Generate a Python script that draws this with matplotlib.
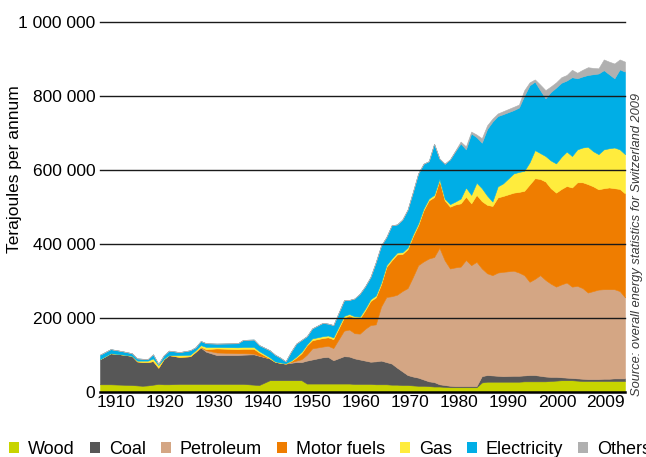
import numpy as np
import matplotlib
matplotlib.use("Agg")
import matplotlib.pyplot as plt
from matplotlib.patches import Patch

plt.rcParams["font.family"] = ["Liberation Sans", "DejaVu Sans"]

# values, in thousands of TJ
years = [1910, 1912, 1914, 1916, 1917, 1918, 1919, 1920, 1921, 1922,
         1923, 1925, 1927, 1928, 1929, 1930, 1932, 1936, 1937, 1939,
         1940, 1942, 1943, 1944, 1945, 1946, 1947, 1948, 1949, 1950,
         1952, 1953, 1954, 1956, 1957, 1958, 1959, 1960, 1961, 1962,
         1963, 1964, 1965, 1966, 1967, 1968, 1969, 1970, 1971, 1972,
         1973, 1974, 1975, 1976, 1977, 1978, 1979, 1980, 1981, 1982,
         1983, 1984, 1985, 1986, 1988, 1989, 1990, 1991, 1992, 1993,
         1994, 1995, 1996, 1997, 1998, 1999, 2000, 2001, 2002, 2003,
         2004, 2005, 2006, 2007, 2008, 2009]

wood = [20, 20, 19, 18, 17, 16, 17, 19, 21, 20,
        20, 21, 21, 21, 21, 21, 21, 21, 21, 19,
        18, 31, 31, 31, 31, 31, 31, 31, 22, 22,
        22, 22, 22, 22, 22, 21, 21, 21, 21, 20,
        20, 20, 19, 19, 18, 18, 17, 16, 16, 15,
        14, 14, 13, 12, 12, 12, 12, 12, 12, 25,
        27, 27, 27, 27, 27, 27, 28, 28, 28, 28,
        28, 29, 30, 31, 31, 31, 30, 29, 29, 29,
        29, 29, 29, 29, 29, 29]

coal = [68, 84, 82, 79, 65, 64, 63, 64, 44, 68,
        79, 73, 75, 87, 98, 87, 78, 78, 79, 82,
        79, 59, 50, 47, 45, 47, 49, 49, 62, 65,
        71, 72, 63, 74, 73, 69, 66, 63, 60, 62,
        64, 60, 57, 46, 37, 27, 24, 22, 17, 13,
        12, 6, 5, 4, 3, 3, 3, 3, 3, 17,
        18, 17, 16, 15, 16, 16, 16, 17, 17, 15,
        13, 11, 10, 8, 7, 6, 6, 6, 5, 5,
        5, 6, 6, 7, 7, 7]

petroleum = [0, 0, 0, 0, 0, 0, 0, 0, 0, 0,
             0, 0, 0, 0, 1, 4, 7, 5, 4, 2,
             1, 0, 0, 0, 0, 2, 4, 8, 16, 30,
             29, 30, 33, 69, 73, 68, 70, 86, 99, 100,
             146, 176, 182, 197, 217, 235, 269, 304, 319, 332,
             338, 369, 337, 317, 321, 323, 341, 327, 336, 291,
             275, 271, 279, 282, 284, 279, 271, 252, 260, 272,
             261, 252, 244, 251, 257, 247, 250, 245, 234, 238,
             242, 242, 242, 241, 236, 219]

motor_fuels = [0, 0, 0, 0, 0, 0, 0, 0, 0, 0,
               0, 0, 0, 0, 1, 3, 11, 11, 12, 13,
               8, 0, 0, 0, 0, 2, 8, 16, 25, 22,
               23, 23, 24, 35, 38, 42, 41, 50, 65, 73,
               60, 81, 97, 109, 100, 105, 110, 108, 138, 157,
               162, 182, 162, 167, 170, 171, 171, 167, 181, 182,
               185, 187, 203, 205, 211, 218, 228, 263, 272, 260,
               266, 258, 254, 258, 261, 268, 280, 286, 293, 283,
               271, 273, 275, 273, 276, 281]

gas = [0, 0, 0, 0, 2, 4, 4, 7, 7, 1,
       0, 5, 4, 4, 5, 6, 4, 5, 5, 5,
       4, 3, 1, 1, 1, 2, 3, 4, 3, 5,
       5, 5, 5, 5, 4, 4, 5, 5, 5, 5,
       5, 5, 5, 5, 5, 5, 5, 5, 5, 5,
       6, 4, 5, 7, 8, 13, 25, 23, 33, 35,
       25, 12, 30, 34, 52, 54, 54, 60, 76, 70,
       69, 75, 79, 87, 93, 85, 89, 94, 101, 95,
       95, 105, 106, 110, 107, 106]

electricity = [12, 11, 9, 7, 6, 5, 4, 11, 3, 9,
               12, 8, 12, 8, 11, 10, 9, 11, 19, 20,
               16, 19, 18, 13, 5, 24, 35, 32, 22, 27,
               36, 32, 33, 42, 38, 48, 62, 60, 60, 90,
               100, 76, 90, 76, 88, 102, 115, 135, 121, 101,
               138, 55, 94, 121, 136, 149, 103, 166, 123, 123,
               180, 216, 190, 187, 171, 174, 203, 208, 185, 170,
               156, 185, 205, 200, 192, 213, 192, 192, 194, 208,
               218, 214, 200, 187, 216, 223]

others = [0, 0, 0, 0, 0, 0, 0, 0, 0, 0,
          0, 0, 0, 0, 0, 0, 0, 0, 0, 0,
          0, 0, 0, 0, 0, 0, 0, 0, 0, 0,
          0, 0, 0, 0, 0, 0, 0, 0, 0, 0,
          0, 0, 0, 0, 0, 0, 0, 0, 0, 0,
          0, 0, 0, 0, 2, 5, 8, 5, 7, 12,
          10, 8, 7, 8, 9, 8, 15, 8, 6, 15,
          22, 15, 14, 15, 15, 20, 15, 18, 21, 17,
          14, 29, 34, 40, 27, 27]

labels = ["Wood", "Coal", "Petroleum", "Motor fuels", "Gas", "Electricity", "Others"]
colors = ["#c8d400", "#575757", "#d4a684", "#ef7d00", "#ffec3d", "#00aee6", "#b0b0b0"]
tick_labels = ["1910", "1920", "1930", "1940", "1950", "1960", "1970",
               "1980", "1990", "2000", "2009"]
y_ticks = [0, 200000, 400000, 600000, 800000, 1000000]

series = np.array([wood, coal, petroleum, motor_fuels, gas, electricity, others]) * 1000

fig = plt.figure(figsize=(6.46, 4.57), dpi=100)
ax = fig.add_axes([100 / 646, 1 - 391.7 / 457, 525 / 646, 370 / 457])
ax.stackplot(years, series, colors=colors, linewidth=0.4, edgecolor="face")
ax.set_xlim(years[0], years[-1])
ax.set_ylim(0, 1000000)

for v in y_ticks[1:]:
    ax.axhline(v, color="#1a1a1a", lw=1.0, zorder=3, clip_on=False)
ax.axhline(0, color="black", lw=1.8, zorder=4, clip_on=False)
for s in ax.spines.values():
    s.set_visible(False)

ax.set_yticks(y_ticks)
ax.set_yticklabels([f"{v:,}".replace(",", " ") for v in y_ticks])
ax.set_xticks(np.linspace(1913.0, 2005.4, len(tick_labels)))
ax.set_xticklabels(tick_labels)
ax.tick_params(axis="both", length=0, labelsize=12.5)
ax.tick_params(axis="y", pad=3.5)
ax.tick_params(axis="x", pad=2.5)

fig.text(15 / 646, 1 - 169 / 457, "Terajoules per annum", rotation=90,
         ha="center", va="center", fontsize=12.5)
fig.text(637 / 646, 1 - 244 / 457, "Source: overall energy statistics for Switzerland 2009",
         rotation=90, style="italic", fontsize=9.3, color="#3a3a3a",
         ha="center", va="center")

handles = [Patch(facecolor=c, edgecolor="none") for c in colors]
fig.legend(handles, labels, ncol=7, loc="center left",
           bbox_to_anchor=(9 / 646, 1 - 449 / 457), frameon=False, fontsize=13,
           handlelength=0.55, handleheight=0.55, handletextpad=0.5,
           columnspacing=0.83, borderpad=0, borderaxespad=0)

fig.savefig("out.png", dpi=100)
